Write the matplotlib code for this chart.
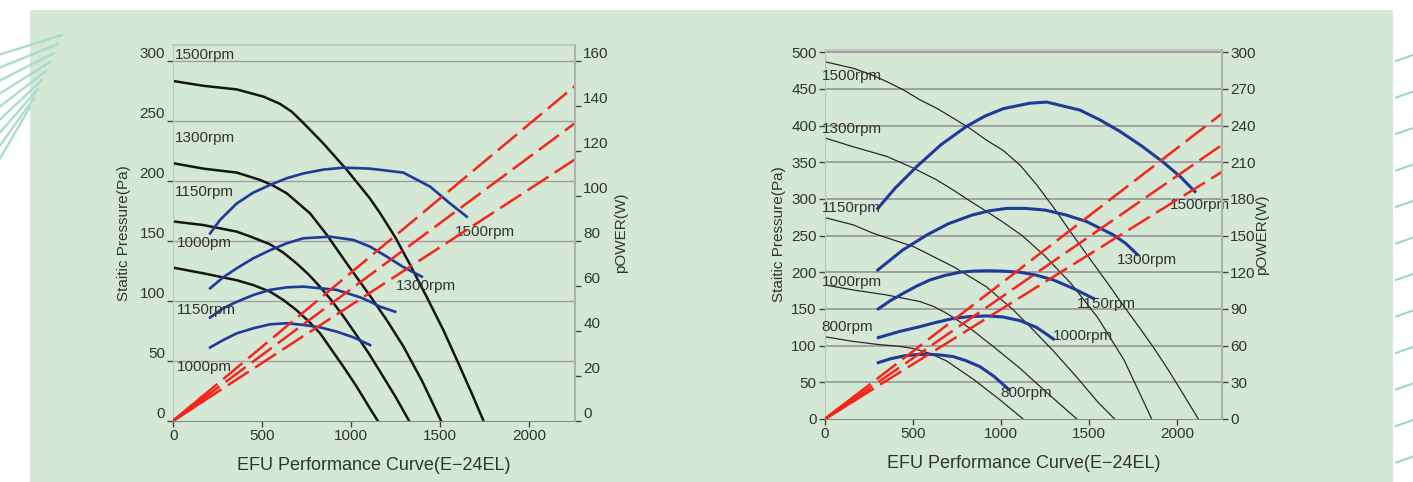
import numpy as np
import matplotlib
matplotlib.use('Agg')
import matplotlib.pyplot as plt
from matplotlib.patches import Rectangle
from matplotlib.lines import Line2D

plt.rcParams['font.family'] = ['Liberation Sans', 'DejaVu Sans']

# ---------------- Left chart data ----------------
L_xticks = [0, 500, 1000, 1500, 2000]
L_yticks = [0, 50, 100, 150, 200, 250, 300]
L_pticks = [0, 20, 40, 60, 80, 100, 120, 140, 160]

L_black_1500_x = [0, 169, 357, 507, 600, 666, 732, 844, 976, 1069, 1107, 1163, 1248, 1332, 1426, 1519, 1604, 1679, 1745]
L_black_1500_y = [283, 279, 276, 270, 264, 257.5, 248, 231, 209, 192, 185, 173, 153, 130, 103, 75.6, 47.8, 22.8, 0]
L_black_1300_x = [0, 169, 357, 488, 560, 638, 769, 863, 976, 1107, 1200, 1294, 1400, 1506]
L_black_1300_y = [214.5, 210, 206.7, 200.6, 196, 189.5, 172.8, 155, 131, 104, 84, 62, 33, 0]
L_black_1150_x = [0, 169, 357, 432, 544, 619, 694, 760, 826, 891, 957, 1032, 1100, 1163, 1250, 1326]
L_black_1150_y = [166, 163, 157.5, 153.5, 147, 140, 131, 122, 111.5, 100, 87, 71, 56, 41, 20, 0]
L_black_1000_x = [0, 169, 357, 450, 544, 619, 694, 760, 826, 891, 957, 1032, 1107, 1150]
L_black_1000_y = [127.5, 122.8, 117, 113, 107.5, 100.6, 92, 83, 72.8, 59, 45, 28.3, 10, 0]

L_blue_1_x = [207, 263, 357, 450, 544, 638, 732, 844, 957, 1060, 1107, 1294, 1445, 1557, 1651]
L_blue_1_y = [156, 167.3, 181, 190, 196.4, 202, 206, 209.2, 210.8, 210.3, 210, 206.7, 195, 181, 170]
L_blue_2_x = [207, 281, 357, 450, 544, 638, 732, 882, 1013, 1107, 1201, 1294, 1398]
L_blue_2_y = [110.3, 119.5, 127, 135.3, 142, 147.8, 152, 153.3, 150.6, 145, 136.7, 128, 120]
L_blue_3_x = [207, 281, 357, 450, 544, 638, 732, 919, 1051, 1107, 1163, 1248]
L_blue_3_y = [86, 93.7, 99, 104.7, 109, 111.1, 111.7, 109, 102.8, 99.2, 95, 90.8]
L_blue_4_x = [207, 281, 357, 450, 544, 638, 732, 826, 919, 1013, 1107]
L_blue_4_y = [61, 67.2, 72.8, 77, 80.3, 81.2, 79.8, 77.8, 74.2, 69.5, 63]

L_red_x = [0, 2270]
L_red_1_w = [0, 149.4]
L_red_2_w = [0, 132.8]
L_red_3_w = [0, 116.6]

L_labels = ["1500rpm", "1300rpm", "1150rpm", "1000pm", "1150rpm", "1000pm", "1500rpm", "1300rpm"]
L_label_x = [10, 10, 10, 19, 19, 19, 1585, 1253]
L_label_y = [305, 235.6, 190.6, 148, 92, 44.8, 157, 112]

# ---------------- Right chart data ----------------
R_xticks = [0, 500, 1000, 1500, 2000]
R_yticks = [0, 50, 100, 150, 200, 250, 300, 350, 400, 450, 500]
R_pticks = [0, 30, 60, 90, 120, 150, 180, 210, 240, 270, 300]

R_black_1500_x = [0, 161, 256, 350, 445, 540, 634, 729, 824, 918, 1013, 1108, 1200, 1300, 1392,
                  1500, 1600, 1700, 1800, 1865, 1950, 2040, 2121]
R_black_1500_y = [487, 478, 470, 460, 448.7, 435, 423.7, 410, 396, 380, 366, 346, 320, 288, 256,
                  220, 187, 153, 120, 98, 67, 32, 0]
R_black_1300_x = [0, 161, 350, 502, 634, 729, 824, 918, 1013, 1120, 1250, 1400, 1550, 1700, 1856]
R_black_1300_y = [383, 371, 358, 342, 326, 312, 297, 283, 268, 250, 222, 184, 138, 80, 0]
R_black_1150_x = [0, 161, 275, 502, 729, 918, 1070, 1165, 1300, 1430, 1550, 1645]
R_black_1150_y = [274.5, 264.5, 253, 235, 207.6, 180, 148.6, 125.8, 92, 57, 23, 0]
R_black_1000_x = [0, 161, 350, 540, 620, 691, 824, 957, 1108, 1250, 1340, 1430]
R_black_1000_y = [182.7, 175.8, 169, 160, 153, 144, 123.6, 98.5, 69, 38, 19, 0]
R_black_800_x = [0, 150, 300, 420, 502, 600, 691, 843, 994, 1125]
R_black_800_y = [112, 106, 101.5, 99, 96, 89, 79, 54, 26, 0]

R_blue_1500_x = [300, 400, 521, 660, 805, 910, 1013, 1165, 1260, 1449, 1560, 1676, 1800, 1922, 2020, 2102]
R_blue_1500_y = [287, 315, 344, 374, 399, 413, 423, 430.5, 432, 421, 408, 392, 372, 350, 330, 310]
R_blue_1300_x = [300, 440, 578, 700, 837, 940, 1032, 1140, 1251, 1370, 1487, 1638, 1710, 1775]
R_blue_1300_y = [203, 230, 250.7, 266, 278, 284, 287, 287, 284.7, 278, 269, 251, 239, 224]
R_blue_1150_x = [303, 370, 445, 520, 597, 680, 767, 840, 918, 1010, 1108, 1200, 1297, 1410, 1527]
R_blue_1150_y = [150, 161, 171.3, 181, 189.5, 195.5, 200, 201.5, 202, 201.5, 200, 196, 189.5, 178, 164]
R_blue_1000_x = [303, 420, 540, 630, 729, 820, 918, 1010, 1108, 1200, 1250, 1297]
R_blue_1000_y = [110.8, 119, 125.8, 131.5, 137, 139.5, 140.4, 139, 134, 125, 117, 109]
R_blue_800_x = [303, 370, 445, 520, 597, 660, 729, 800, 881, 960, 1045]
R_blue_800_y = [76.7, 81.8, 85.8, 87.8, 88, 87, 84.9, 79.5, 71.2, 58, 40]

R_red_x = [0, 2254]
R_red_1_w = [0, 249.6]
R_red_2_w = [0, 224]
R_red_3_w = [0, 202]

R_labels = ["1500rpm", "1300rpm", "1150rpm", "1000rpm", "800rpm",
            "1500rpm", "1300rpm", "1150rpm", "1000rpm", "800rpm"]
R_label_x = [-19, -19, -19, -19, -19, 1960, 1657, 1430, 1297, 999]
R_label_y = [468, 395, 287, 187, 125, 292, 216, 157, 113, 35]

# ---------------- styling ----------------
W, H = 1413, 482
BG = '#d5e8d5'
BLACK = '#151515'
BLUE = '#1f3a9a'
RED = '#f5251c'
TXT = '#333333'
GRID = '#a0a0a0'

fig = plt.figure(figsize=(W / 100, H / 100), dpi=100)
fig.patch.set_facecolor('white')
fig.add_artist(Rectangle((30 / W, 0), (1393 - 30) / W, 1 - 10 / H,
                         transform=fig.transFigure, facecolor=BG,
                         edgecolor='none', zorder=-10))

# decorative lines at the left top and right edge
for i in range(9):
    y0 = 1 - (40 + 13 * i) / H
    y1 = 1 - (35 + 9 * i) / H
    fig.add_artist(Line2D([0, (62 - 4 * i) / W], [y0 - 0.03, y1],
                          transform=fig.transFigure, color='#a6dccd', lw=1.6, zorder=-9))
for i in range(12):
    yc = 58 + 36.5 * i
    fig.add_artist(Line2D([1396 / W, 1413 / W], [1 - (yc + 3) / H, 1 - (yc - 3) / H],
                          transform=fig.transFigure, color='#96d6c4', lw=1.4, zorder=-9))


def style_axes(ax, ax2, xlim, ylim, plim, xticks, yticks, pticks, grid_lw, left_va):
    ax.set_facecolor('none')
    ax.set_xlim(*xlim)
    ax.set_ylim(*ylim)
    ax2.set_ylim(*plim)
    ax.set_xticks(xticks)
    ax.set_yticks(yticks)
    ax2.set_yticks(pticks)
    for y in yticks[1:]:
        ax.axhline(y, color=GRID, lw=grid_lw, zorder=0.5)
    for a in (ax, ax2):
        a.tick_params(axis='both', direction='out', length=4, width=1,
                      color='#444444', labelcolor=TXT, labelsize=11, pad=2)
        for s in a.spines.values():
            s.set_visible(False)
    ax.spines['left'].set_visible(True)
    ax.spines['left'].set_color('#c0c0c0')
    ax.spines['top'].set_visible(True)
    ax.spines['top'].set_color('#c4c4c4')
    ax.spines['top'].set_linewidth(1.5)
    ax.spines['bottom'].set_visible(True)
    ax.spines['bottom'].set_color('#8a8a8a')
    ax2.spines['right'].set_visible(True)
    ax2.spines['right'].set_color('#b0b0b0')
    ax2.spines['right'].set_linewidth(1.5)
    if left_va:
        for lbl in ax.get_yticklabels():
            lbl.set_va('bottom')
        for lbl in ax2.get_yticklabels():
            lbl.set_va('bottom')


def red_line(ax2, xs, ws, lw):
    xs = np.asarray(xs, float)
    ws = np.asarray(ws, float)
    ax2.plot(xs, ws, color=RED, lw=lw, linestyle=(0, (10, 3)), solid_capstyle='butt')
    cut = 170.0
    ax2.plot([xs[0], cut], [ws[0], np.interp(cut, xs, ws)], color=RED, lw=lw)


# ---------------- Left chart ----------------
axL = fig.add_axes([173.3 / W, 1 - 420.7 / H, (575 - 173.3) / W, (420.7 - 45) / H])
axL2 = axL.twinx()
style_axes(axL, axL2, (0, 2260), (0, 313), (0, 313 * 160 / 300),
           L_xticks, L_yticks, L_pticks, 1.0, True)

for xs, ys in [(L_black_1500_x, L_black_1500_y), (L_black_1300_x, L_black_1300_y),
               (L_black_1150_x, L_black_1150_y), (L_black_1000_x, L_black_1000_y)]:
    axL.plot(xs, ys, color=BLACK, lw=1.8, zorder=2, solid_joinstyle='round')
for xs, ys in [(L_blue_1_x, L_blue_1_y), (L_blue_2_x, L_blue_2_y),
               (L_blue_3_x, L_blue_3_y), (L_blue_4_x, L_blue_4_y)]:
    axL.plot(xs, ys, color=BLUE, lw=1.9, zorder=3, solid_joinstyle='round')
for ws in (L_red_1_w, L_red_2_w, L_red_3_w):
    red_line(axL2, L_red_x, ws, 1.8)
for t, x, y in zip(L_labels, L_label_x, L_label_y):
    axL.text(x, y, t, fontsize=11, color=TXT, va='center', ha='left', zorder=5)

axL.set_ylabel('Staitic Pressure(Pa)', fontsize=11, color=TXT, labelpad=6)
axL2.set_ylabel('pOWER(W)', fontsize=11, color=TXT, labelpad=4)
axL.set_xlabel('EFU Performance Curve(E\u221224EL)', fontsize=13, color=TXT, labelpad=10)

# ---------------- Right chart ----------------
axR = fig.add_axes([825 / W, 1 - 418.9 / H, (1221.7 - 825) / W, (418.9 - 50) / H])
axR2 = axR.twinx()
style_axes(axR, axR2, (0, 2254), (0, 503), (0, 503 * 0.6),
           R_xticks, R_yticks, R_pticks, 1.4, False)

for xs, ys in [(R_black_1500_x, R_black_1500_y), (R_black_1300_x, R_black_1300_y),
               (R_black_1150_x, R_black_1150_y), (R_black_1000_x, R_black_1000_y),
               (R_black_800_x, R_black_800_y)]:
    axR.plot(xs, ys, color='#2a2a2a', lw=0.9, zorder=2, solid_joinstyle='round')
for xs, ys in [(R_blue_1500_x, R_blue_1500_y), (R_blue_1300_x, R_blue_1300_y),
               (R_blue_1150_x, R_blue_1150_y), (R_blue_1000_x, R_blue_1000_y),
               (R_blue_800_x, R_blue_800_y)]:
    axR.plot(xs, ys, color=BLUE, lw=2.2, zorder=3, solid_joinstyle='round')
for ws in (R_red_1_w, R_red_2_w, R_red_3_w):
    red_line(axR2, R_red_x, ws, 1.8)
for t, x, y in zip(R_labels, R_label_x, R_label_y):
    axR.text(x, y, t, fontsize=11, color=TXT, va='center', ha='left', zorder=5)

axR.set_ylabel('Staitic Pressure(Pa)', fontsize=11, color=TXT, labelpad=4)
axR2.set_ylabel('pOWER(W)', fontsize=11, color=TXT, labelpad=0)
axR.set_xlabel('EFU Performance Curve(E\u221224EL)', fontsize=13, color=TXT, labelpad=10)

fig.savefig('out.png', dpi=100, facecolor=fig.get_facecolor())
